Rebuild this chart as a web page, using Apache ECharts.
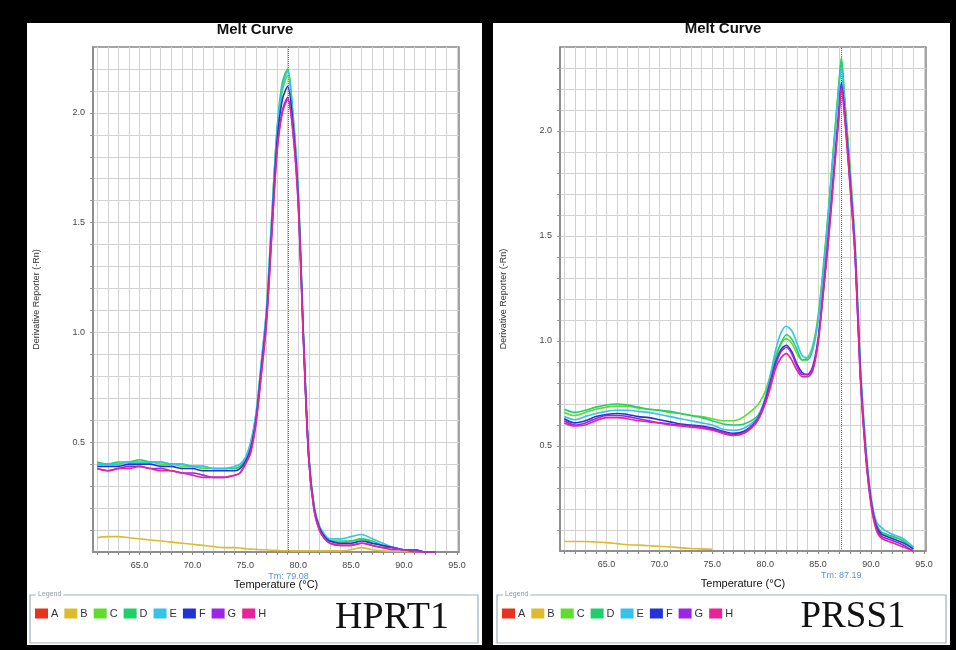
<!DOCTYPE html>
<html>
<head>
<meta charset="utf-8">
<script src="https://cdn.jsdelivr.net/npm/echarts@6/dist/echarts.min.js"></script>
<style>
  html, body { margin: 0; padding: 0; background: #000; }
  #chart { width: 956px; height: 650px; }
</style>
</head>
<body>
<div id="chart"></div>
<script>
// 孔位名称和颜色
var wells = ["A", "B", "C", "D", "E", "F", "G", "H"];
var wellColors = ["#e8321e", "#dcbc2c", "#5fdc2c", "#1fd06a", "#34c3ea", "#2233d6", "#9c25e6", "#e8229a"];

// 刻度
var xTicks = [61, 62, 63, 64, 65, 66, 67, 68, 69, 70, 71, 72, 73, 74, 75, 76, 77, 78, 79, 80,
  81, 82, 83, 84, 85, 86, 87, 88, 89, 90, 91, 92, 93, 94, 95];
var xLabels = [65, 70, 75, 80, 85, 90, 95];
var yTicksL = [0.1, 0.2, 0.3, 0.4, 0.5, 0.6, 0.7, 0.8, 0.9, 1.0, 1.1, 1.2, 1.3, 1.4, 1.5, 1.6, 1.7, 1.8, 1.9, 2.0, 2.1, 2.2];
var yTicksR = [0.1, 0.2, 0.3, 0.4, 0.5, 0.6, 0.7, 0.8, 0.9, 1.0, 1.1, 1.2, 1.3, 1.4, 1.5, 1.6, 1.7, 1.8, 1.9, 2.0, 2.1, 2.2, 2.3];
var yLabels = [0.5, 1.0, 1.5, 2.0];

// HPRT1 熔解曲线
var tmL = 79.08;
var tempsL = [61, 62, 63, 64, 65, 66, 67, 68, 69, 70, 71, 72, 73, 74, 74.5,
  75, 75.5, 76, 76.5, 77, 77.5, 78, 78.5, 79, 79.5, 80, 80.5, 81, 81.5, 82, 82.5, 83,
  84, 85, 86, 87, 88, 89, 90, 91, 92, 93];
var hprtB = [0.065, 0.07, 0.07, 0.065, 0.06, 0.055, 0.05, 0.045, 0.04, 0.035, 0.03, 0.025, 0.02, 0.02, 0.018,
  0.015, 0.013, 0.012, 0.01, 0.01, 0.008, 0.007, 0.006, 0.005, 0.005, 0.005, 0.005, 0.005, 0.005, 0.005, 0.005, 0.005,
  0.005, 0.01, 0.02, 0.01, 0.005, 0.003, 0.002, 0.0, 0.0, 0.0];
var hprtC = [0.40, 0.40, 0.40, 0.41, 0.41, 0.41, 0.40, 0.40, 0.39, 0.39, 0.38, 0.38, 0.38, 0.38, 0.39,
  0.42, 0.48, 0.61, 0.84, 1.09, 1.50, 1.90, 2.10, 2.17, 1.98, 1.63, 0.97, 0.43, 0.20, 0.11, 0.07, 0.05,
  0.04, 0.05, 0.06, 0.04, 0.03, 0.02, 0.01, 0.01, 0.00, 0.00];
var hprtD = [0.41, 0.40, 0.41, 0.41, 0.42, 0.41, 0.41, 0.40, 0.40, 0.39, 0.39, 0.38, 0.38, 0.38, 0.39,
  0.42, 0.49, 0.62, 0.85, 1.10, 1.52, 1.93, 2.14, 2.20, 2.00, 1.65, 0.99, 0.44, 0.21, 0.11, 0.07, 0.05,
  0.05, 0.05, 0.06, 0.05, 0.03, 0.02, 0.01, 0.01, 0.00, 0.00];
var hprtE = [0.40, 0.40, 0.40, 0.41, 0.41, 0.41, 0.41, 0.40, 0.40, 0.39, 0.39, 0.38, 0.38, 0.39, 0.40,
  0.43, 0.50, 0.63, 0.86, 1.11, 1.53, 1.92, 2.12, 2.19, 1.99, 1.64, 0.98, 0.44, 0.21, 0.12, 0.08, 0.06,
  0.06, 0.07, 0.08, 0.06, 0.04, 0.02, 0.01, 0.01, 0.00, 0.00];
var hprtF = [0.39, 0.39, 0.39, 0.40, 0.40, 0.40, 0.39, 0.39, 0.38, 0.38, 0.37, 0.37, 0.37, 0.37, 0.38,
  0.41, 0.47, 0.60, 0.83, 1.07, 1.48, 1.87, 2.06, 2.12, 1.95, 1.61, 0.97, 0.43, 0.20, 0.11, 0.07, 0.05,
  0.04, 0.04, 0.05, 0.04, 0.03, 0.02, 0.01, 0.01, 0.00, 0.00];
var hprtG = [0.38, 0.37, 0.38, 0.39, 0.39, 0.38, 0.38, 0.37, 0.36, 0.36, 0.35, 0.34, 0.34, 0.35, 0.36,
  0.40, 0.46, 0.59, 0.81, 1.05, 1.45, 1.83, 2.01, 2.07, 1.92, 1.59, 0.96, 0.42, 0.19, 0.10, 0.06, 0.04,
  0.03, 0.03, 0.04, 0.03, 0.02, 0.02, 0.01, 0.01, 0.00, 0.00];
var hprtH = [0.38, 0.37, 0.38, 0.38, 0.39, 0.38, 0.37, 0.37, 0.36, 0.35, 0.34, 0.34, 0.34, 0.35, 0.36,
  0.40, 0.45, 0.58, 0.80, 1.04, 1.44, 1.82, 2.00, 2.06, 1.91, 1.58, 0.95, 0.42, 0.19, 0.10, 0.06, 0.04,
  0.03, 0.03, 0.04, 0.03, 0.02, 0.01, 0.01, 0.00, 0.00, 0.00];

// PRSS1 熔解曲线
var tmR = 87.19;
var tempsR = [61, 62, 63, 64, 65, 66, 67, 68, 69, 70, 71, 72, 73, 74, 75, 76, 77, 78, 79,
  79.5, 80, 80.5, 81, 81.5, 82, 82.5, 83, 83.5, 84, 84.5, 85, 85.5, 86, 86.5, 87, 87.2,
  87.5, 88, 88.5, 89, 89.5, 90, 90.5, 91, 92, 93, 94];
var prssB = [0.045, 0.045, 0.045, 0.043, 0.04, 0.035, 0.03, 0.028, 0.025, 0.022, 0.02, 0.015, 0.012, 0.01, 0.008];
var prssC = [0.66, 0.645, 0.66, 0.675, 0.685, 0.69, 0.69, 0.68, 0.675, 0.67, 0.66, 0.655, 0.645, 0.64, 0.63, 0.62, 0.62, 0.64, 0.68,
  0.71, 0.76, 0.84, 0.93, 0.99, 1.01, 0.99, 0.94, 0.91, 0.92, 0.98, 1.12, 1.36, 1.64, 1.95, 2.25, 2.33,
  2.16, 1.84, 1.46, 0.88, 0.50, 0.25, 0.13, 0.09, 0.07, 0.05, 0.01];
var prssD = [0.675, 0.66, 0.67, 0.685, 0.695, 0.70, 0.695, 0.685, 0.675, 0.67, 0.665, 0.655, 0.645, 0.635, 0.62, 0.605, 0.60, 0.605, 0.63,
  0.66, 0.72, 0.81, 0.92, 0.99, 1.03, 1.01, 0.96, 0.91, 0.91, 0.96, 1.10, 1.34, 1.63, 1.94, 2.24, 2.35,
  2.16, 1.82, 1.44, 0.86, 0.49, 0.24, 0.13, 0.09, 0.07, 0.05, 0.01];
var prssE = [0.64, 0.625, 0.64, 0.655, 0.665, 0.67, 0.67, 0.665, 0.66, 0.65, 0.64, 0.63, 0.62, 0.61, 0.60, 0.58, 0.575, 0.585, 0.62,
  0.66, 0.73, 0.84, 0.96, 1.04, 1.07, 1.05, 0.99, 0.93, 0.92, 0.97, 1.10, 1.33, 1.62, 1.93, 2.22, 2.30,
  2.14, 1.80, 1.45, 0.88, 0.50, 0.26, 0.14, 0.11, 0.08, 0.06, 0.02];
var prssF = [0.63, 0.61, 0.62, 0.64, 0.65, 0.655, 0.65, 0.64, 0.635, 0.625, 0.615, 0.605, 0.60, 0.595, 0.585, 0.57, 0.56, 0.57, 0.61,
  0.65, 0.72, 0.81, 0.90, 0.96, 0.98, 0.95, 0.89, 0.85, 0.84, 0.88, 1.01, 1.25, 1.52, 1.82, 2.12, 2.23,
  2.10, 1.78, 1.42, 0.84, 0.47, 0.24, 0.12, 0.08, 0.06, 0.04, 0.01];
var prssG = [0.62, 0.60, 0.61, 0.63, 0.645, 0.645, 0.64, 0.63, 0.62, 0.61, 0.605, 0.60, 0.595, 0.59, 0.58, 0.565, 0.555, 0.565, 0.61,
  0.65, 0.71, 0.80, 0.89, 0.95, 0.97, 0.94, 0.88, 0.84, 0.84, 0.87, 1.00, 1.24, 1.50, 1.80, 2.10, 2.22,
  2.08, 1.76, 1.40, 0.82, 0.46, 0.23, 0.11, 0.07, 0.05, 0.03, 0.00];
var prssH = [0.61, 0.595, 0.60, 0.62, 0.635, 0.635, 0.63, 0.62, 0.615, 0.61, 0.60, 0.595, 0.59, 0.585, 0.575, 0.56, 0.55, 0.56, 0.60,
  0.64, 0.70, 0.78, 0.87, 0.92, 0.94, 0.91, 0.86, 0.83, 0.83, 0.86, 0.99, 1.23, 1.49, 1.79, 2.09, 2.20,
  2.07, 1.75, 1.40, 0.82, 0.45, 0.22, 0.10, 0.06, 0.04, 0.02, 0.00];

function pairs(temps, vals) {
  var out = [];
  for (var i = 0; i < vals.length; i++) {
    out.push([temps[i], vals[i]]);
  }
  return out;
}

var myChart = echarts.init(document.getElementById("chart"));

var panels = [
  { temps: tempsL, tm: tmL, ymax: 2.3, yTicks: yTicksL, vals: [[], hprtB, hprtC, hprtD, hprtE, hprtF, hprtG, hprtH] },
  { temps: tempsR, tm: tmR, ymax: 2.4, yTicks: yTicksR, vals: [[], prssB, prssC, prssD, prssE, prssF, prssG, prssH] }
];

var xAxes = [], yAxes = [], series = [];
for (var p = 0; p < panels.length; p++) {
  var pn = panels[p];
  xAxes.push({
    type: "value",
    gridIndex: p,
    min: 60.6,
    max: 95.2,
    name: "Temperature (°C)",
    nameLocation: "middle",
    nameGap: 27,
    nameTextStyle: { color: "#111", fontSize: 11, fontFamily: "Liberation Sans" },
    axisLine: { lineStyle: { color: "#888", width: 1.5 } },
    axisTick: { show: true, length: 3, customValues: xTicks, lineStyle: { color: "#888" } },
    axisLabel: {
      customValues: xLabels,
      color: "#444",
      fontSize: 9,
      fontFamily: "Liberation Sans",
      margin: 9,
      formatter: function (v) { return v.toFixed(1); }
    },
    splitLine: { show: true, lineStyle: { color: "#d2d2d2", width: 1 } }
  });
  yAxes.push({
    type: "value",
    gridIndex: p,
    min: 0,
    max: pn.ymax,
    name: "Derivative Reporter (-Rn)",
    nameLocation: "middle",
    nameGap: 52,
    nameTextStyle: { color: "#333", fontSize: 9, fontFamily: "Liberation Sans" },
    axisLine: { show: true, lineStyle: { color: "#888", width: 1.5 } },
    axisTick: { show: true, length: 3, customValues: pn.yTicks, lineStyle: { color: "#999" } },
    axisLabel: {
      customValues: yLabels,
      color: "#444",
      fontSize: 9,
      fontFamily: "Liberation Sans",
      margin: 8,
      formatter: function (v) { return v.toFixed(1); }
    },
    splitLine: { show: true, lineStyle: { color: "#d2d2d2", width: 1 } }
  });
  for (var s = 0; s < wells.length; s++) {
    var ser = {
      name: wells[s],
      type: "line",
      xAxisIndex: p,
      yAxisIndex: p,
      data: pairs(pn.temps, pn.vals[s]),
      showSymbol: false,
      smooth: 0.3,
      lineStyle: { width: 1.6, color: wellColors[s] },
      itemStyle: { color: wellColors[s] },
      z: 3 + s
    };
    if (s === 2) {
      // Tm 参考线
      ser.markLine = {
        silent: true,
        symbol: "none",
        lineStyle: { type: "dotted", color: "#3d6fd0", width: 1 },
        label: {
          show: true,
          position: "start",
          distance: 20,
          formatter: "Tm: " + pn.tm.toFixed(2),
          color: "#5b8fd0",
          fontSize: 9,
          fontFamily: "Liberation Sans"
        },
        data: [{ xAxis: pn.tm }]
      };
    }
    series.push(ser);
  }
}

var legendBase = {
  data: wells,
  top: 603,
  itemWidth: 13,
  itemHeight: 10,
  itemGap: 6,
  icon: "rect",
  selectedMode: false,
  textStyle: { color: "#333", fontSize: 11, fontFamily: "Liberation Sans", padding: [0, 0, 0, -2] }
};

option = {
  backgroundColor: "#000",
  animation: false,
  color: wellColors,
  legend: [
    Object.assign({}, legendBase, { left: 30 }),
    Object.assign({}, legendBase, { left: 497 })
  ],
  grid: [
    { left: 93, top: 47, width: 366, height: 505, show: true, borderColor: "#888", borderWidth: 1.5, backgroundColor: "#fff" },
    { left: 560, top: 47, width: 366, height: 504, show: true, borderColor: "#888", borderWidth: 1.5, backgroundColor: "#fff" }
  ],
  xAxis: xAxes,
  yAxis: yAxes,
  graphic: [
    // 白色面板
    { type: "rect", z: -10, shape: { x: 27, y: 23, width: 455, height: 622 }, style: { fill: "#fff" } },
    { type: "rect", z: -10, shape: { x: 493, y: 23, width: 457, height: 622 }, style: { fill: "#fff" } },
    // 图例框
    { type: "rect", z: -5, shape: { x: 30, y: 595, width: 448, height: 48 }, style: { fill: "#fff", stroke: "#9fb0c2", lineWidth: 1.2 } },
    { type: "rect", z: -5, shape: { x: 497, y: 595, width: 449, height: 48 }, style: { fill: "#fff", stroke: "#9fb0c2", lineWidth: 1.2 } },
    { type: "text", z: 10, x: 36, y: 591, style: { text: "Legend", fill: "#8a97a8", fontSize: 7, fontFamily: "Liberation Sans", backgroundColor: "#fff", padding: [0, 2] } },
    { type: "text", z: 10, x: 503, y: 591, style: { text: "Legend", fill: "#8a97a8", fontSize: 7, fontFamily: "Liberation Sans", backgroundColor: "#fff", padding: [0, 2] } },
    // 标题
    { type: "text", z: 10, x: 255, y: 30, style: { text: "Melt Curve", fill: "#111", fontSize: 15, fontWeight: "bold", fontFamily: "Liberation Sans", align: "center", verticalAlign: "middle" } },
    { type: "text", z: 10, x: 723, y: 29, style: { text: "Melt Curve", fill: "#111", fontSize: 15, fontWeight: "bold", fontFamily: "Liberation Sans", align: "center", verticalAlign: "middle" } },
    // 基因名称
    { type: "text", z: 10, x: 392, y: 618, style: { text: "HPRT1", fill: "#111", fontSize: 38, fontFamily: "Liberation Serif", align: "center", verticalAlign: "middle" } },
    { type: "text", z: 10, x: 853, y: 617, style: { text: "PRSS1", fill: "#111", fontSize: 37, fontFamily: "Liberation Serif", align: "center", verticalAlign: "middle" } }
  ],
  series: series
};

myChart.setOption(option);

window.addEventListener("resize", function () {
  myChart.resize();
});
</script>
</body>
</html>
